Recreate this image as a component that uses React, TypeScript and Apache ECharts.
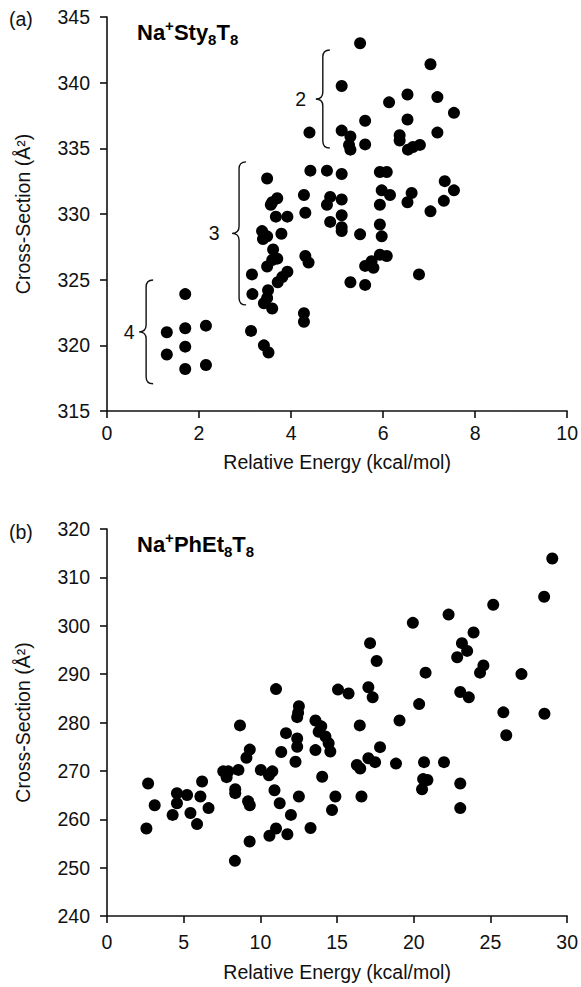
import React, { useEffect, useRef } from "react";
import * as echarts from "echarts";

const FONT = "'Liberation Sans', Arial, Helvetica, sans-serif";
const FS = 19.5;

// Panel (a): Na+Sty8T8
const styEnergy = [
  1.7, 1.3, 1.7, 2.15, 1.7, 1.3, 1.7, 2.15,
  3.15, 3.16, 3.13, 3.41, 3.51, 3.5, 3.48, 3.41, 3.59, 4.28, 4.28, 3.71, 3.81, 3.92, 4.31, 4.38,
  3.37, 3.39, 3.48, 3.79, 3.61, 3.7, 3.59, 3.48, 3.67, 3.92, 4.31, 3.48, 4.42, 4.78, 4.28, 3.59,
  3.7, 3.56, 4.85, 4.78, 4.85, 5.1, 5.1, 5.1, 5.1, 5.1, 5.5, 5.93, 5.97, 5.93, 6.08, 5.75, 5.61,
  5.79, 6.78, 5.29, 5.61, 5.93, 6.53, 7.32, 7.03, 6.62, 5.97, 6.15, 7.34, 7.54, 5.93, 6.08, 5.1,
  5.29, 5.26, 5.29, 5.61, 6.36, 6.36, 6.54, 6.65, 6.8, 7.18, 5.61, 6.53, 7.54, 6.13, 6.53, 7.18,
  5.1, 5.5, 7.03, 4.4,
];
const styCross = [
  323.9, 321.0, 321.3, 321.5, 319.9, 319.3, 318.2, 318.5,
  325.4, 323.9, 321.1, 320.0, 319.45, 324.2, 323.6, 323.2, 322.8, 322.45, 321.8, 324.8, 325.2, 325.6, 326.8, 326.3,
  328.7, 328.1, 328.3, 328.5, 327.3, 326.6, 326.5, 326.0, 329.8, 329.8, 330.1, 332.7, 333.3, 333.3, 331.45, 330.9,
  331.2, 330.7, 331.3, 330.7, 329.4, 333.05, 331.1, 329.9, 329.0, 328.7, 328.45, 329.2, 328.3, 326.9, 326.8, 326.4, 326.05,
  325.9, 325.4, 324.8, 324.6, 330.7, 330.9, 331.0, 330.2, 331.6, 331.8, 331.45, 332.5, 331.8, 333.2, 333.2, 336.35,
  335.9, 335.26, 334.9, 335.3, 336.0, 335.6, 334.9, 335.1, 335.26, 336.2, 337.1, 337.2, 337.7, 338.5, 339.1, 338.9,
  339.75, 343.0, 341.4, 336.2,
];

// Panel (b): Na+PhEt8T8
const phEnergy = [
  2.57, 2.68, 3.11, 4.28, 4.56, 5.22, 4.56, 5.44, 6.09, 6.2, 6.62, 5.87, 7.58, 7.91, 7.8, 8.57,
  8.67, 8.36, 8.36, 8.34, 9.31, 9.09, 9.2, 9.31, 9.3, 10.03, 10.78, 10.56, 10.92, 11.02, 11.26, 11.02,
  10.59, 11.76, 11.99, 12.51, 12.46, 12.4, 11.67, 11.36, 12.4, 12.4, 12.29, 12.51, 13.27, 13.59, 13.97, 13.8,
  14.24, 14.45, 14.56, 13.59, 14.03, 14.89, 14.67, 15.06, 15.75, 17.04, 17.32, 16.48, 17.58, 17.15, 19.07, 17.8,
  17.04, 17.48, 16.29, 16.51, 18.84, 16.59, 19.94, 20.35, 20.77, 20.67, 21.97, 20.61, 20.89, 20.54, 22.27, 23.03,
  23.59, 23.14, 23.48, 22.83, 23.9, 23.03, 23.03, 24.32, 24.54, 25.18, 25.84, 26.03, 27.02, 28.52, 28.5, 29.03,
];
const phCross = [
  258.1, 267.4, 262.9, 260.9, 265.4, 265.0, 263.3, 261.3, 264.7, 267.8, 262.3, 259.0, 269.9, 269.9, 268.7, 270.2,
  279.4, 266.2, 265.4, 251.4, 274.4, 272.7, 263.7, 262.9, 255.4, 270.2, 269.9, 269.1, 266.0, 286.9, 263.3, 258.1,
  256.6, 256.9, 260.9, 283.35, 282.0, 281.1, 277.8, 273.9, 276.7, 275.0, 271.9, 264.7, 258.2, 280.4, 279.2, 278.1,
  277.1, 275.7, 274.0, 274.3, 268.8, 264.7, 261.9, 286.8, 286.0, 287.3, 285.2, 279.4, 292.7, 296.4, 280.4, 274.9,
  272.6, 271.8, 271.2, 270.5, 271.5, 264.7, 300.6, 283.8, 290.3, 271.8, 271.8, 268.3, 268.1, 266.2, 302.3, 286.3,
  285.2, 296.4, 294.8, 293.5, 298.6, 267.4, 262.3, 290.3, 291.8, 304.35, 282.1, 277.35, 290.0, 281.8, 306.0, 313.9,
];

// Conformer-family braces in panel (a): line x, top, bottom, label x
const braceLabels = ["2", "3", "4"];
const braceX = [4.69, 2.87, 0.85];
const braceTop = [342.49, 333.97, 324.98];
const braceBottom = [335.03, 323.08, 317.07];
const braceLabelX = [4.21, 2.33, 0.48];

const xName = "Relative Energy (kcal/mol)";
const yName = "Cross-Section (Å²)";

function axisCommon() {
  return {
    axisLine: { show: true, lineStyle: { color: "#111", width: 1.6 } },
    axisTick: { show: true, length: 7, lineStyle: { color: "#111", width: 1.6 } },
    splitLine: { show: false },
    nameTextStyle: { color: "#111", fontSize: FS, fontFamily: FONT },
  };
}

export default function App() {
  const ref = useRef<HTMLDivElement>(null);
  useEffect(() => {
    document.body.style.margin = "0";
    if (!ref.current) return;
    const chart = echarts.init(ref.current, undefined, { renderer: "svg" });
    const titleRich = {
      b: { fontSize: 22, fontWeight: "bold", fontFamily: FONT, fill: "#000", lineHeight: 29 },
      sup: { fontSize: 15, fontWeight: "bold", fontFamily: FONT, fill: "#000", verticalAlign: "top", lineHeight: 15 },
      sub: { fontSize: 15, fontWeight: "bold", fontFamily: FONT, fill: "#000", verticalAlign: "bottom", lineHeight: 15 },
    };
    const option: any = {
      animation: false,
      textStyle: { fontFamily: FONT, color: "#111" },
      grid: [
        { left: 107, top: 17, width: 463, height: 394 },
        { left: 107, top: 529, width: 463, height: 387 },
      ],
      xAxis: [
        {
          gridIndex: 0, type: "value", min: 0, max: 10, interval: 2,
          name: xName, nameLocation: "middle", nameGap: 41,
          axisLabel: { color: "#111", fontSize: FS, margin: 12 },
          ...axisCommon(),
        },
        {
          gridIndex: 1, type: "value", min: 0, max: 30, interval: 5,
          name: xName, nameLocation: "middle", nameGap: 46,
          axisLabel: { color: "#111", fontSize: FS, margin: 16 },
          ...axisCommon(),
        },
      ],
      yAxis: [
        {
          gridIndex: 0, type: "value", min: 315, max: 345, interval: 5,
          name: yName, nameLocation: "middle", nameGap: 74,
          axisLabel: { color: "#111", fontSize: FS, margin: 17 },
          ...axisCommon(),
        },
        {
          gridIndex: 1, type: "value", min: 240, max: 320, interval: 10,
          name: yName, nameLocation: "middle", nameGap: 74,
          axisLabel: { color: "#111", fontSize: FS, margin: 17 },
          ...axisCommon(),
        },
      ],
      series: [
        {
          type: "scatter", xAxisIndex: 0, yAxisIndex: 0, symbol: "circle", symbolSize: 12,
          itemStyle: { color: "#000", opacity: 1 },
          data: styEnergy.map((x, i) => [x, styCross[i]]),
        },
        {
          type: "scatter", xAxisIndex: 1, yAxisIndex: 1, symbol: "circle", symbolSize: 12,
          itemStyle: { color: "#000", opacity: 1 },
          data: phEnergy.map((x, i) => [x, phCross[i]]),
        },
        {
          type: "custom", xAxisIndex: 0, yAxisIndex: 0, silent: true,
          data: braceX.map((x, i) => [x, braceTop[i], braceBottom[i], braceLabelX[i]]),
          renderItem: (params: any, api: any) => {
            const xl = api.value(0), yt = api.value(1), yb = api.value(2), xlab = api.value(3);
            const pT = api.coord([xl, yt]);
            const pB = api.coord([xl, yb]);
            const pL = api.coord([xlab, (yt + yb) / 2]);
            const x = pT[0], t = pT[1], b = pB[1], m = (t + b) / 2;
            const w = 7, r = 7;
            const d = `M ${x + w} ${t} Q ${x} ${t} ${x} ${t + r} L ${x} ${m - r} Q ${x} ${m} ${x - w} ${m} Q ${x} ${m} ${x} ${m + r} L ${x} ${b - r} Q ${x} ${b} ${x + w} ${b}`;
            return {
              type: "group",
              children: [
                { type: "path", shape: { pathData: d }, style: { fill: "none", stroke: "#111", lineWidth: 1.4 } },
                {
                  type: "text", x: pL[0], y: pL[1],
                  style: { text: braceLabels[params.dataIndex], fontSize: FS, fontFamily: FONT, fill: "#111", align: "center", verticalAlign: "middle" },
                },
              ],
            };
          },
        },
      ],
      graphic: [
        { type: "text", left: 9, top: 9, style: { text: "(a)", fontSize: FS, fontFamily: FONT, fill: "#111" } },
        { type: "text", left: 9, top: 522, style: { text: "(b)", fontSize: FS, fontFamily: FONT, fill: "#111" } },
        { type: "text", left: 137, top: 18, style: { text: "{b|Na}{sup|+}{b|Sty}{sub|8}{b|T}{sub|8}", rich: titleRich } },
        { type: "text", left: 137, top: 530, style: { text: "{b|Na}{sup|+}{b|PhEt}{sub|8}{b|T}{sub|8}", rich: titleRich } },
      ],
    };
    chart.setOption(option);
    return () => chart.dispose();
  }, []);
  return <div ref={ref} style={{ width: 581, height: 987 }} />;
}
